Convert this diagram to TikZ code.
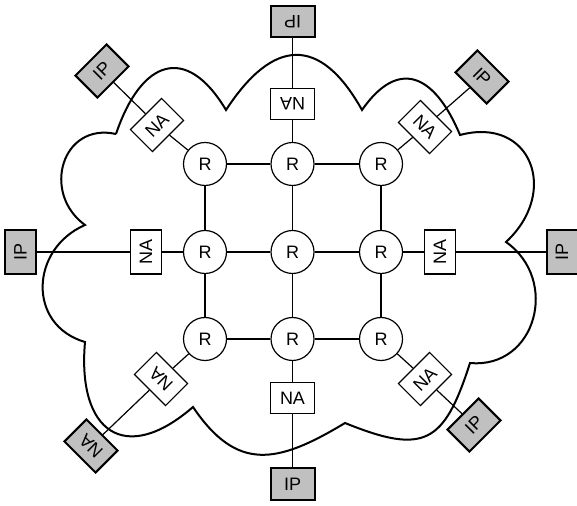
\documentclass[tikz,border=0pt]{standalone}
\usepackage{fontspec}
\setmainfont{Liberation Sans}
\usetikzlibrary{backgrounds}
\definecolor{ipgray}{RGB}{192,192,192}
\begin{document}
\begin{tikzpicture}[x=1pt,y=1pt,
  lbl/.style={font=\fontsize{18}{20}\selectfont},
  router/.style={lbl,circle,draw,line width=1.2pt,fill=white,minimum size=43pt,inner sep=0pt},
  nabox/.style={lbl,draw,line width=1.2pt,fill=white,minimum width=44pt,minimum height=31pt,inner sep=0pt},
  ipbox/.style={nabox,line width=2pt,fill=ipgray},
  link/.style={line width=1.2pt},
  cloudline/.style={line width=2pt}]
\useasboundingbox (0,0) rectangle (577,505);
% routers
\node[router] (r11) at (205,341) {R};
\node[router] (r12) at (292.5,341) {R};
\node[router] (r13) at (381,341) {R};
\node[router] (r21) at (205,253) {R};
\node[router] (r22) at (292.5,253) {R};
\node[router] (r23) at (381,253) {R};
\node[router] (r31) at (205,166) {R};
\node[router] (r32) at (292.5,166) {R};
\node[router] (r33) at (381,166) {R};
% network adapters
\node[nabox,rotate=45]  (naTL) at (157,380) {NA};
\node[nabox,rotate=180] (naT)  at (292.5,401) {NA};
\node[nabox,rotate=-45] (naTR) at (425,378) {NA};
\node[nabox,rotate=90]  (naL)  at (146,253) {NA};
\node[nabox,rotate=90]  (naR)  at (440,253) {NA};
\node[nabox,rotate=135] (naBL) at (161,126) {NA};
\node[nabox]            (naB)  at (292.5,107) {NA};
\node[nabox,rotate=45]  (naBR) at (425,126) {NA};
% outer boxes
\node[ipbox,rotate=45]  (ipTL) at (102,434) {IP};
\node[ipbox,rotate=180] (ipT)  at (292.5,483) {IP};
\node[ipbox,rotate=-45] (ipTR) at (482,428) {IP};
\node[ipbox,rotate=90]  (ipL)  at (20.5,253) {IP};
\node[ipbox,rotate=90]  (ipR)  at (562,253) {IP};
\node[ipbox,rotate=135] (ipBL) at (91,59) {NA};
\node[ipbox]            (ipB)  at (292.5,21) {IP};
\node[ipbox,rotate=45]  (ipBR) at (474,80) {IP};
\begin{scope}[on background layer]
\draw[cloudline] (116,371)
 .. controls (141,445) and (186,462) .. (226,395)
 .. controls (273,467) and (320,470) .. (362,395)
 .. controls (399,448) and (435,430) .. (460,370)
 .. controls (531,389) and (560,313) .. (506,263)
 .. controls (560,225) and (536,136) .. (470,142)
 .. controls (444,61) and (424,50) .. (345,82)
 .. controls (277,41) and (237,33) .. (193,98)
 .. controls (125,39) and (77,73) .. (85,163)
 .. controls (27,180) and (30,256) .. (85,280)
 .. controls (41,312) and (62,383) .. (116,371);
\draw[link] (r11) -- (r12) -- (r13);
\draw[link] (r21) -- (r22) -- (r23);
\draw[link] (r31) -- (r32) -- (r33);
\draw[link] (r11) -- (r21) -- (r31);
\draw[link] (r12) -- (r22) -- (r32);
\draw[link] (r13) -- (r23) -- (r33);
\draw[link] (r11) -- (naTL) -- (ipTL);
\draw[link] (r12) -- (naT) -- (ipT);
\draw[link] (r13) -- (naTR) -- (ipTR);
\draw[link] (r21) -- (naL) -- (ipL);
\draw[link] (r23) -- (naR) -- (ipR);
\draw[link] (r31) -- (naBL) -- (ipBL);
\draw[link] (r32) -- (naB) -- (ipB);
\draw[link] (r33) -- (naBR) -- (ipBR);
\end{scope}
\end{tikzpicture}
\end{document}
